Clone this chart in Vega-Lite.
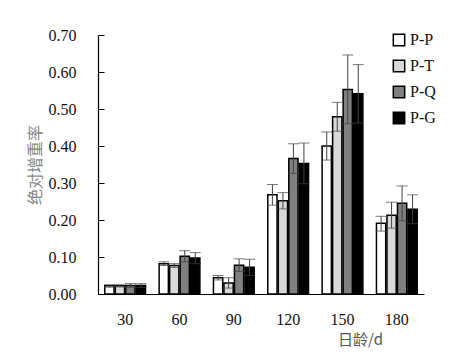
{
  "$schema": "https://vega.github.io/schema/vega-lite/v6.json",
  "width": 326,
  "height": 259,
  "autosize": {"type": "none"},
  "padding": {"left": 98, "top": 35, "right": 41, "bottom": 67},
  "background": "white",
  "config": {
    "view": {"stroke": null},
    "axis": {"labelFont": "Liberation Serif", "labelFontWeight": "normal"},
    "legend": {"labelFont": "Liberation Serif", "labelFontWeight": "normal"}
  },
  "data": {
    "values": [
      {"age": "30", "group": "P-P", "value": 0.022, "lo": 0.018, "hi": 0.025},
      {"age": "30", "group": "P-T", "value": 0.022, "lo": 0.019, "hi": 0.025},
      {"age": "30", "group": "P-Q", "value": 0.023, "lo": 0.018, "hi": 0.028},
      {"age": "30", "group": "P-G", "value": 0.023, "lo": 0.018, "hi": 0.028},
      {"age": "60", "group": "P-P", "value": 0.082, "lo": 0.077, "hi": 0.087},
      {"age": "60", "group": "P-T", "value": 0.077, "lo": 0.072, "hi": 0.082},
      {"age": "60", "group": "P-Q", "value": 0.102, "lo": 0.087, "hi": 0.117},
      {"age": "60", "group": "P-G", "value": 0.097, "lo": 0.082, "hi": 0.112},
      {"age": "90", "group": "P-P", "value": 0.044, "lo": 0.038, "hi": 0.050},
      {"age": "90", "group": "P-T", "value": 0.030, "lo": 0.016, "hi": 0.044},
      {"age": "90", "group": "P-Q", "value": 0.078, "lo": 0.061, "hi": 0.095},
      {"age": "90", "group": "P-G", "value": 0.072, "lo": 0.050, "hi": 0.094},
      {"age": "120", "group": "P-P", "value": 0.268, "lo": 0.240, "hi": 0.296},
      {"age": "120", "group": "P-T", "value": 0.252, "lo": 0.230, "hi": 0.274},
      {"age": "120", "group": "P-Q", "value": 0.366, "lo": 0.326, "hi": 0.406},
      {"age": "120", "group": "P-G", "value": 0.353, "lo": 0.298, "hi": 0.408},
      {"age": "150", "group": "P-P", "value": 0.400, "lo": 0.362, "hi": 0.438},
      {"age": "150", "group": "P-T", "value": 0.479, "lo": 0.440, "hi": 0.518},
      {"age": "150", "group": "P-Q", "value": 0.553, "lo": 0.460, "hi": 0.646},
      {"age": "150", "group": "P-G", "value": 0.541, "lo": 0.462, "hi": 0.620},
      {"age": "180", "group": "P-P", "value": 0.191, "lo": 0.170, "hi": 0.210},
      {"age": "180", "group": "P-T", "value": 0.213, "lo": 0.178, "hi": 0.248},
      {"age": "180", "group": "P-Q", "value": 0.245, "lo": 0.198, "hi": 0.292},
      {"age": "180", "group": "P-G", "value": 0.229, "lo": 0.190, "hi": 0.268}
    ]
  },
  "encoding": {
    "x": {
      "field": "age", "type": "ordinal", "sort": ["30", "60", "90", "120", "150", "180"],
      "scale": {"paddingInner": 0.25, "paddingOuter": 0.125},
      "axis": {
        "title": "日龄/d", "titleFont": "Noto Sans CJK SC", "titleFontSize": 15, "titleFontWeight": "normal",
        "titleColor": "#555555", "titleX": 262, "titleY": 45, "titleAlign": "center", "titleBaseline": "middle",
        "labelAngle": 0, "labelFont": "Liberation Serif", "labelFontWeight": "normal", "labelFontSize": 16, "labelColor": "#111111", "labelPadding": 23,
        "bandPosition": 0, "tickSize": -6, "tickColor": "#000000", "domainColor": "#000000", "domainWidth": 1.2
      }
    },
    "xOffset": {"field": "group", "type": "nominal", "sort": ["P-P", "P-T", "P-Q", "P-G"], "scale": {"paddingInner": 0.12}}
  },
  "layer": [
    {
      "mark": {"type": "bar", "stroke": "#000000", "strokeWidth": 1.5},
      "encoding": {
        "y": {
          "field": "value", "type": "quantitative",
          "scale": {"domain": [0, 0.7], "nice": false},
          "axis": {
            "title": "绝对增重率", "titleFont": "Noto Sans CJK SC", "titleFontSize": 16, "titleFontWeight": "normal",
            "titleColor": "#888888", "titlePadding": 5,
            "values": [0, 0.1, 0.2, 0.3, 0.4, 0.5, 0.6, 0.7], "format": ".2f", "labelOverlap": false,
            "labelFont": "Liberation Serif", "labelFontWeight": "normal", "labelFontSize": 16, "labelColor": "#111111", "labelPadding": 28,
            "tickSize": -6, "tickColor": "#000000", "domainColor": "#000000", "domainWidth": 1.2, "grid": false
          }
        },
        "fill": {
          "field": "group", "type": "nominal", "sort": ["P-P", "P-T", "P-Q", "P-G"],
          "scale": {"domain": ["P-P", "P-T", "P-Q", "P-G"], "range": ["#ffffff", "#d9d9d9", "#808080", "#000000"]},
          "legend": {
            "title": null, "orient": "none", "legendX": 293, "legendY": -3,
            "symbolType": "square", "symbolSize": 130, "symbolStrokeColor": "#000000", "symbolStrokeWidth": 1.5,
            "labelFont": "Liberation Serif", "labelFontWeight": "normal",
            "labelFontSize": 16, "labelColor": "#111111", "rowPadding": 8, "labelOffset": 3
          }
        }
      }
    },
    {
      "mark": {"type": "rule", "color": "#404040", "strokeWidth": 1},
      "encoding": {
        "y": {
          "field": "lo", "type": "quantitative",
          "axis": {
            "title": "绝对增重率", "titleFont": "Noto Sans CJK SC", "titleFontSize": 16, "titleFontWeight": "normal",
            "titleColor": "#888888", "titlePadding": 5,
            "values": [0, 0.1, 0.2, 0.3, 0.4, 0.5, 0.6, 0.7], "format": ".2f", "labelOverlap": false,
            "labelFont": "Liberation Serif", "labelFontWeight": "normal", "labelFontSize": 16, "labelColor": "#111111", "labelPadding": 28,
            "tickSize": -6, "tickColor": "#000000", "domainColor": "#000000", "domainWidth": 1.2, "grid": false
          }
        },
        "y2": {"field": "hi"}
      }
    },
    {
      "mark": {"type": "tick", "color": "#404040", "thickness": 1, "size": 11},
      "encoding": {
        "y": {
          "field": "hi", "type": "quantitative",
          "axis": {
            "title": "绝对增重率", "titleFont": "Noto Sans CJK SC", "titleFontSize": 16, "titleFontWeight": "normal",
            "titleColor": "#888888", "titlePadding": 5,
            "values": [0, 0.1, 0.2, 0.3, 0.4, 0.5, 0.6, 0.7], "format": ".2f", "labelOverlap": false,
            "labelFont": "Liberation Serif", "labelFontWeight": "normal", "labelFontSize": 16, "labelColor": "#111111", "labelPadding": 28,
            "tickSize": -6, "tickColor": "#000000", "domainColor": "#000000", "domainWidth": 1.2, "grid": false
          }
        }
      }
    },
    {
      "mark": {"type": "tick", "color": "#404040", "thickness": 1, "size": 11},
      "encoding": {
        "y": {
          "field": "lo", "type": "quantitative",
          "axis": {
            "title": "绝对增重率", "titleFont": "Noto Sans CJK SC", "titleFontSize": 16, "titleFontWeight": "normal",
            "titleColor": "#888888", "titlePadding": 5,
            "values": [0, 0.1, 0.2, 0.3, 0.4, 0.5, 0.6, 0.7], "format": ".2f", "labelOverlap": false,
            "labelFont": "Liberation Serif", "labelFontWeight": "normal", "labelFontSize": 16, "labelColor": "#111111", "labelPadding": 28,
            "tickSize": -6, "tickColor": "#000000", "domainColor": "#000000", "domainWidth": 1.2, "grid": false
          }
        }
      }
    }
  ]
}
